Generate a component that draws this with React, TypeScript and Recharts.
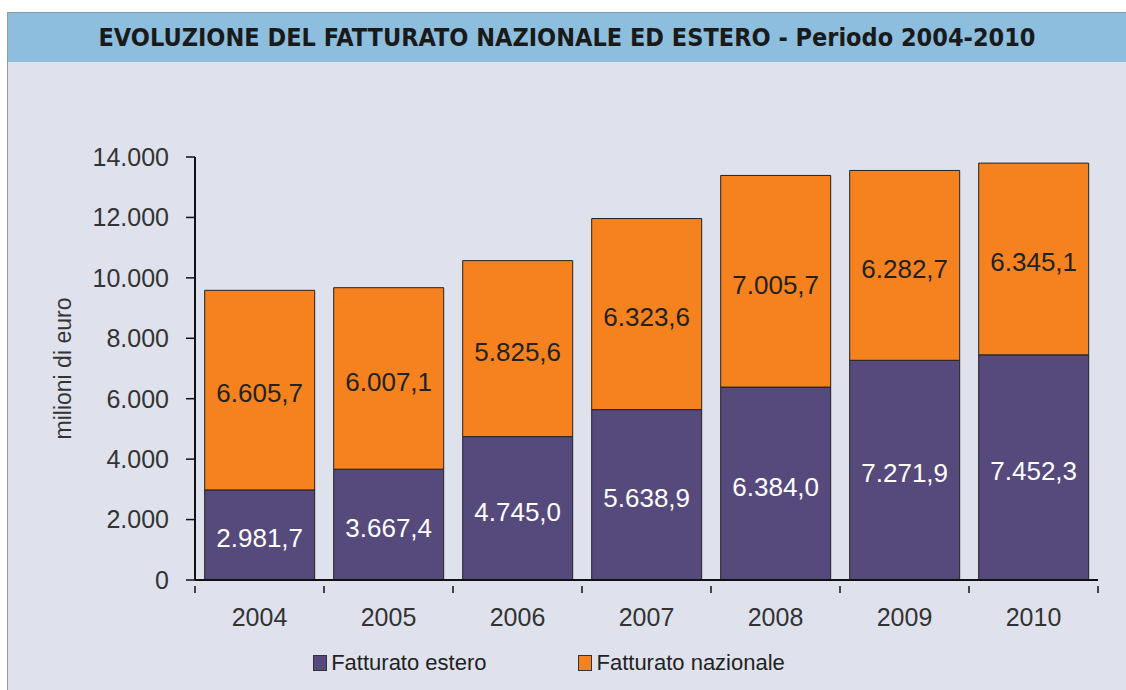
import { BarChart, Bar, XAxis, YAxis, Legend, LabelList } from "recharts";

const years = ["2004", "2005", "2006", "2007", "2008", "2009", "2010"];
const estero = [2981.7, 3667.4, 4745.0, 5638.9, 6384.0, 7271.9, 7452.3];
const nazionale = [6605.7, 6007.1, 5825.6, 6323.6, 7005.7, 6282.7, 6345.1];
const yTicks = [0, 2000, 4000, 6000, 8000, 10000, 12000, 14000];

const data = years.map((year, i) => ({
  year,
  estero: estero[i],
  nazionale: nazionale[i],
}));

const FONT = "'Liberation Sans', Arial, sans-serif";

// italian style: 2.981,7 / 14.000
function groupThousands(int: string) {
  return int.replace(/\B(?=(\d{3})+(?!\d))/g, ".");
}
const fmtValue = (v: number) => {
  const [a, b] = v.toFixed(1).split(".");
  return `${groupThousands(a)},${b}`;
};
const fmtTick = (v: number) => groupThousands(String(v));

// x tick: label under the bar, small tick marks on the category boundaries
function YearTick(props: any) {
  const { x, y, payload, index } = props;
  const half = payload?.offset ?? 0;
  const axisY = y - 20;
  return (
    <g>
      {half > 0 && <line x1={x - half} x2={x - half} y1={axisY} y2={axisY + 7} stroke="#111" strokeWidth={1.5} />}
      {half > 0 && index === years.length - 1 && (
        <line x1={x + half} x2={x + half} y1={axisY} y2={axisY + 7} stroke="#111" strokeWidth={1.5} />
      )}
      <text x={x} y={y} dy={20} textAnchor="middle" fill="#333" fontSize={25} fontFamily={FONT}>
        {payload.value}
      </text>
    </g>
  );
}

function LegendContent() {
  const items = [
    { label: "Fatturato estero", color: "#564a7c" },
    { label: "Fatturato nazionale", color: "#f5821f" },
  ];
  return (
    <div style={{ display: "flex", justifyContent: "center", gap: 92, fontFamily: FONT, fontSize: 22, color: "#222" }}>
      {items.map((it) => (
        <div key={it.label} style={{ display: "flex", alignItems: "center" }}>
          <span
            style={{
              width: 12,
              height: 14,
              background: it.color,
              border: "1px solid #333",
              marginRight: 4,
              display: "inline-block",
            }}
          />
          {it.label}
        </div>
      ))}
    </div>
  );
}

export default function App() {
  return (
    <div style={{ position: "absolute", left: 0, top: 0, width: 1126, height: 690, background: "#fff" }}>
      <div
        style={{
          position: "absolute",
          left: 7,
          top: 12,
          width: 1119,
          height: 678,
          background: "#dfe2ec",
          borderLeft: "1px solid #999",
          borderTop: "1px solid #999",
        }}
      />
      <div
        style={{
          position: "absolute",
          left: 8,
          top: 13,
          width: 1118,
          height: 49,
          background: "#8dbede",
          display: "flex",
          alignItems: "center",
          justifyContent: "center",
          fontFamily: "'DejaVu Sans Condensed', 'DejaVu Sans', sans-serif",
          fontStretch: "condensed",
          fontWeight: 700,
          fontSize: 25,
          color: "#1a1a1a",
        }}
      >
        EVOLUZIONE DEL FATTURATO NAZIONALE ED ESTERO - Periodo 2004-2010
      </div>
      <div style={{ position: "absolute", left: 0, top: 62 }}>
        <BarChart
          width={1126}
          height={628}
          data={data}
          margin={{ top: 95, right: 28, bottom: 14, left: 0 }}
          barCategoryGap="7.5%"
        >
          <XAxis
            dataKey="year"
            axisLine={{ stroke: "#111", strokeWidth: 2 }}
            tickLine={false}
            tick={<YearTick />}
            tickMargin={20}
            height={70}
          />
          <YAxis
            domain={[0, 14000]}
            ticks={yTicks}
            tickFormatter={fmtTick}
            axisLine={{ stroke: "#111", strokeWidth: 2 }}
            tickLine={{ stroke: "#111", strokeWidth: 1.5 }}
            tickSize={9}
            tickMargin={17}
            width={195}
            tick={{ fill: "#333", fontSize: 25, fontFamily: FONT }}
            label={{
              value: "milioni di euro",
              angle: -90,
              position: "insideLeft",
              dx: 58,
              style: { textAnchor: "middle", fill: "#333", fontSize: 23, fontFamily: FONT },
            }}
          />
          <Legend verticalAlign="bottom" content={<LegendContent />} />
          <Bar dataKey="estero" name="Fatturato estero" stackId="a" fill="#564a7c" stroke="#222" strokeWidth={1} isAnimationActive={false}>
            <LabelList dataKey="estero" position="center" dy={3} formatter={(v: any) => fmtValue(Number(v))} style={{ fill: "#fff", fontSize: 26, fontFamily: FONT }} />
          </Bar>
          <Bar dataKey="nazionale" name="Fatturato nazionale" stackId="a" fill="#f5821f" stroke="#222" strokeWidth={1} isAnimationActive={false}>
            <LabelList dataKey="nazionale" position="center" dy={3} formatter={(v: any) => fmtValue(Number(v))} style={{ fill: "#222", fontSize: 26, fontFamily: FONT }} />
          </Bar>
        </BarChart>
      </div>
    </div>
  );
}
